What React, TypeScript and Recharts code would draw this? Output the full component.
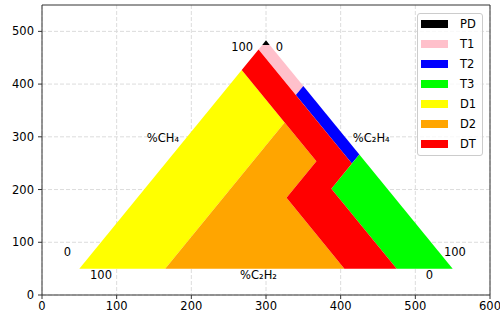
import React from "react";
import {
  ComposedChart,
  Scatter,
  XAxis,
  YAxis,
  CartesianGrid,
  Legend,
  ReferenceLine,
} from "recharts";

// Duval triangle zones, each vertex is [%CH4, %C2H4, %C2H2]
const zoneNames = ["PD", "T1", "T2", "T3", "D1", "D2", "DT"];
const zoneColors = ["#000000", "#ffc0cb", "#0000ff", "#00ff00", "#ffff00", "#ffa500", "#ff0000"];

const pdZone = [[98, 0, 2], [100, 0, 0], [98, 2, 0]];
const t1Zone = [[98, 2, 0], [80, 20, 0], [76, 20, 4], [96, 0, 4], [98, 0, 2]];
const t2Zone = [[80, 20, 0], [50, 50, 0], [46, 50, 4], [76, 20, 4]];
const t3Zone = [[50, 50, 0], [0, 100, 0], [0, 85, 15], [35, 50, 15]];
const d1Zone = [[87, 0, 13], [0, 0, 100], [0, 23, 77], [64, 23, 13]];
const d2Zone = [[64, 23, 13], [0, 23, 77], [0, 71, 29], [31, 40, 29], [47, 40, 13]];
const dtZone = [
  [96, 0, 4], [87, 0, 13], [64, 23, 13], [47, 40, 13], [31, 40, 29],
  [0, 71, 29], [0, 85, 15], [35, 50, 15], [46, 50, 4],
];

const zones = [pdZone, t1Zone, t2Zone, t3Zone, d1Zone, d2Zone, dtZone];

// annotations, in data coordinates
const textLabels = [
  { x: 268, y: 470, text: "100" },
  { x: 318, y: 470, text: "0" },
  { x: 162, y: 298, text: "%CH₄" },
  { x: 441, y: 298, text: "%C₂H₄" },
  { x: 290, y: 38, text: "%C₂H₂" },
  { x: 34, y: 82, text: "0" },
  { x: 79, y: 37, text: "100" },
  { x: 553, y: 82, text: "100" },
  { x: 519, y: 37, text: "0" },
];

const xTicks = [0, 100, 200, 300, 400, 500, 600];
const yTicks = [0, 100, 200, 300, 400, 500];

const FONT = "'DejaVu Sans', sans-serif";

// triangle with side 500 and its lower-left corner at (50, 50)
const toXY = ([ch4, c2h4]: number[]) => ({
  x: 50 + 5 * c2h4 + 2.5 * ch4,
  y: 50 + (500 * Math.sqrt(3)) / 2 * (ch4 / 100),
});

const Blank = () => <g />;

const fillPolygon = (color: string) => (props: any) => {
  const pts = props.points || [];
  const d = "M" + pts.map((p: any) => `${p.x},${p.y}`).join("L") + "Z";
  return <path d={d} fill={color} stroke="none" />;
};

const LabelText = (props: any) => (
  <text
    x={props.cx}
    y={props.cy}
    textAnchor="middle"
    dominantBaseline="central"
    fontFamily={FONT}
    fontSize={11.5}
    fill="#000"
  >
    {props.payload.text}
  </text>
);

const LegendBox = (props: any) => {
  const items = (props.payload || [])
    .filter((p: any) => p.type !== "none" && zoneNames.includes(p.value))
    .sort((a: any, b: any) => zoneNames.indexOf(a.value) - zoneNames.indexOf(b.value));
  return (
    <div
      style={{
        width: 66,
        height: 143,
        boxSizing: "border-box",
        border: "1px solid #cccccc",
        borderRadius: 3,
        background: "rgba(255,255,255,0.8)",
        fontFamily: FONT,
        fontSize: 11.5,
        color: "#000",
      }}
    >
      {items.map((item: any) => (
        <div
          key={item.value}
          style={{ height: 20, display: "flex", alignItems: "center" }}
        >
          <span
            style={{
              marginLeft: 3,
              width: 27,
              height: 8,
              background: item.color,
              display: "inline-block",
            }}
          />
          <span style={{ marginLeft: 12 }}>{item.value}</span>
        </div>
      ))}
    </div>
  );
};

export default function App() {
  return (
    <div style={{ position: "absolute", left: 0, top: 0 }}>
      <ComposedChart
        width={500}
        height={322}
        margin={{ top: 5, right: 10, bottom: 0, left: 0 }}
      >
        <XAxis
          type="number"
          dataKey="x"
          domain={[0, 600]}
          ticks={xTicks}
          allowDataOverflow
          height={27}
          tickSize={4}
          tickMargin={3}
          stroke="#333"
          tick={{ fill: "#000", fontSize: 11.5, fontFamily: FONT }}
        />
        <YAxis
          type="number"
          dataKey="y"
          domain={[0, 550]}
          ticks={yTicks}
          allowDataOverflow
          width={42}
          tickSize={4}
          tickMargin={4}
          stroke="#333"
          tick={{ fill: "#000", fontSize: 11.5, fontFamily: FONT }}
        />

        {zones.map((zone, i) => (
          <Scatter
            key={zoneNames[i]}
            name={zoneNames[i]}
            data={zone.map(toXY)}
            fill={zoneColors[i]}
            shape={Blank}
            line={fillPolygon(zoneColors[i])}
            lineType="joint"
            legendType="rect"
            isAnimationActive={false}
          />
        ))}

        <CartesianGrid
          strokeDasharray="4 2"
          stroke="#dcdcdc"
          horizontalValues={yTicks}
          verticalValues={xTicks}
        />

        <Scatter
          name="labels"
          data={textLabels}
          shape={LabelText}
          legendType="none"
          isAnimationActive={false}
        />

        <ReferenceLine y={550} stroke="#333" />
        <ReferenceLine x={600} stroke="#333" />

        <Legend
          layout="horizontal"
          verticalAlign="middle"
          align="center"
          itemSorter={null as any}
          content={LegendBox}
          wrapperStyle={{ position: "absolute", left: 417, top: 13, width: 66, height: 143 }}
        />
      </ComposedChart>
    </div>
  );
}
